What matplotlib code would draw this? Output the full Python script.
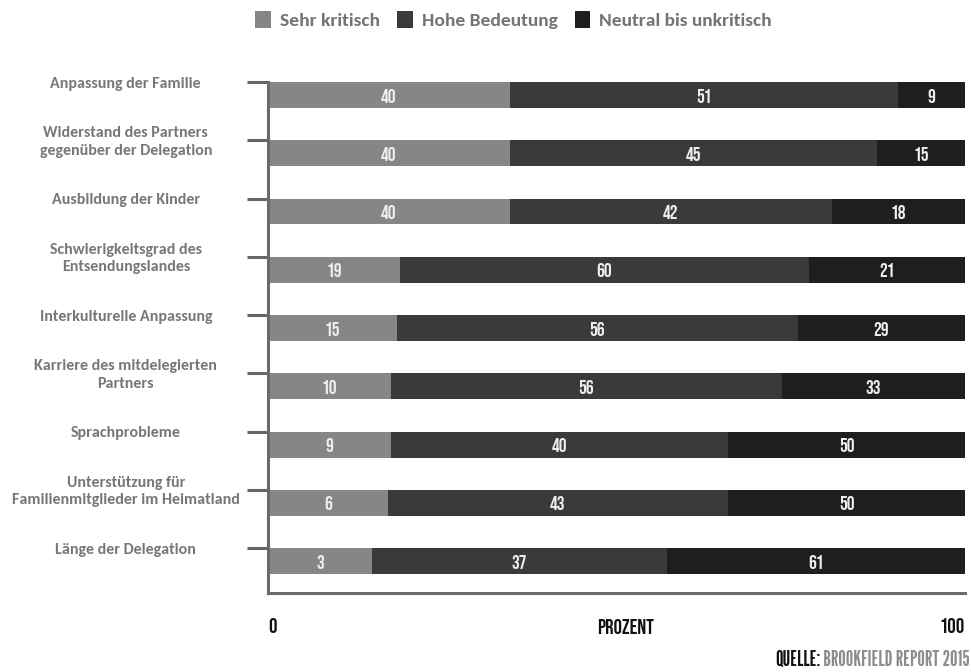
import matplotlib
matplotlib.use('Agg')
import matplotlib.pyplot as plt
import matplotlib.transforms as mtransforms

categories = [
    'Anpassung der Familie',
    'Widerstand des Partners\ngegenüber der Delegation',
    'Ausbildung der Kinder',
    'Schwierigkeitsgrad des\nEntsendungslandes',
    'Interkulturelle Anpassung',
    'Karriere des mitdelegierten\nPartners',
    'Sprachprobleme',
    'Unterstützung für\nFamilienmitglieder im Heimatland',
    'Länge der Delegation',
]
series_names = ['Sehr kritisch', 'Hohe Bedeutung', 'Neutral bis unkritisch']

# printed values (percent)
sehr_kritisch = [40, 40, 40, 19, 15, 10, 9, 6, 3]
hohe_bedeutung = [51, 45, 42, 60, 56, 56, 40, 43, 37]
neutral = [9, 15, 18, 21, 29, 33, 50, 50, 61]

# segment lengths as drawn in the original (not to scale), percent of axis
sehr_drawn = [34.7, 34.7, 34.7, 18.9, 18.5, 17.6, 17.6, 17.2, 14.9]
hohe_drawn = [55.7, 52.7, 46.2, 58.7, 57.5, 56.1, 48.4, 48.8, 42.3]
neutral_drawn = [9.6, 12.6, 19.1, 22.4, 24.0, 26.3, 34.0, 34.0, 42.8]

colors = ['#868686', '#3a3a3a', '#1e1e1e']
label_grey = '#777777'
num_font = 'Bebas Neue'
body = 'Carlito'

fig = plt.figure(figsize=(9.71, 6.72), dpi=100)
ax = fig.add_axes([268 / 971, 1 - 593 / 672, 697 / 971, 511 / 672])

y = list(range(len(categories)))
bar_h = 0.446
lefts = [0] * len(y)
bars = []
for vals, drawn, col in zip([sehr_kritisch, hohe_bedeutung, neutral],
                            [sehr_drawn, hohe_drawn, neutral_drawn], colors):
    b = ax.barh(y, drawn, left=lefts, height=bar_h, color=col, edgecolor='none')
    bars.append(b)
    for yi, l, w, v in zip(y, lefts, drawn, vals):
        ax.text(l + w / 2, yi + 0.01, str(v), ha='center', va='center', color='#eeeeee',
                fontsize=14, family=num_font)
    lefts = [l + w for l, w in zip(lefts, drawn)]

ax.set_xlim(0, 100)
ax.set_ylim(len(y) - 1 + 0.549, -0.223)

# ticks sit at the top edge of each bar
tick_pos = [yi - bar_h / 2 for yi in y]
ax.set_yticks(tick_pos)
ax.set_yticklabels([])
ax.tick_params(axis='y', length=15, width=2.2, color='#666666', direction='out')

trans = mtransforms.blended_transform_factory(ax.transAxes, ax.transData)
for tp, cat in zip(tick_pos, categories):
    ax.text(-0.204, tp + 0.03, cat, transform=trans, ha='center', va='center',
            multialignment='center', fontsize=11.5, fontweight='bold',
            color=label_grey, family=body, linespacing=1.32)

ax.set_xticks([0, 100])
ax.set_xticklabels(['0', '100'], fontsize=15, family=num_font, color='#111111')
xl = ax.get_xticklabels()
xl[0].set_ha('left')
xl[1].set_ha('right')
for t in xl:
    t.set_va('center')
ax.tick_params(axis='x', length=0, pad=23.5)

ax.set_xlabel('PROZENT', fontsize=15, family=num_font, color='#111111')
ax.xaxis.set_label_coords(0.513, -0.0646)
ax.xaxis.label.set_va('center')

for s in ['top', 'right']:
    ax.spines[s].set_visible(False)
for s in ['left', 'bottom']:
    ax.spines[s].set_color('#6a6a6a')
    ax.spines[s].set_linewidth(2.2)

leg = fig.legend(bars, series_names, loc='center', bbox_to_anchor=(0.529, 0.970),
                 ncol=3, frameon=False, handlelength=0.8, handleheight=1.0,
                 handletextpad=0.45, columnspacing=0.9,
                 prop={'family': body, 'weight': 'bold', 'size': 14})
for t in leg.get_texts():
    t.set_color('#747474')

src = fig.text(970 / 971, 1 - 660 / 672, ' BROOKFIELD REPORT 2015', ha='right', va='center',
               fontsize=15, family='League Gothic', color='#8c8c8c')
fig.canvas.draw()
bb = src.get_window_extent()
fig.text(bb.x0 / fig.bbox.width, 1 - 660 / 672, 'QUELLE:', ha='right', va='center',
         fontsize=15, family='League Gothic', color='#111111')

fig.savefig('out.png', dpi=100, facecolor='white')
